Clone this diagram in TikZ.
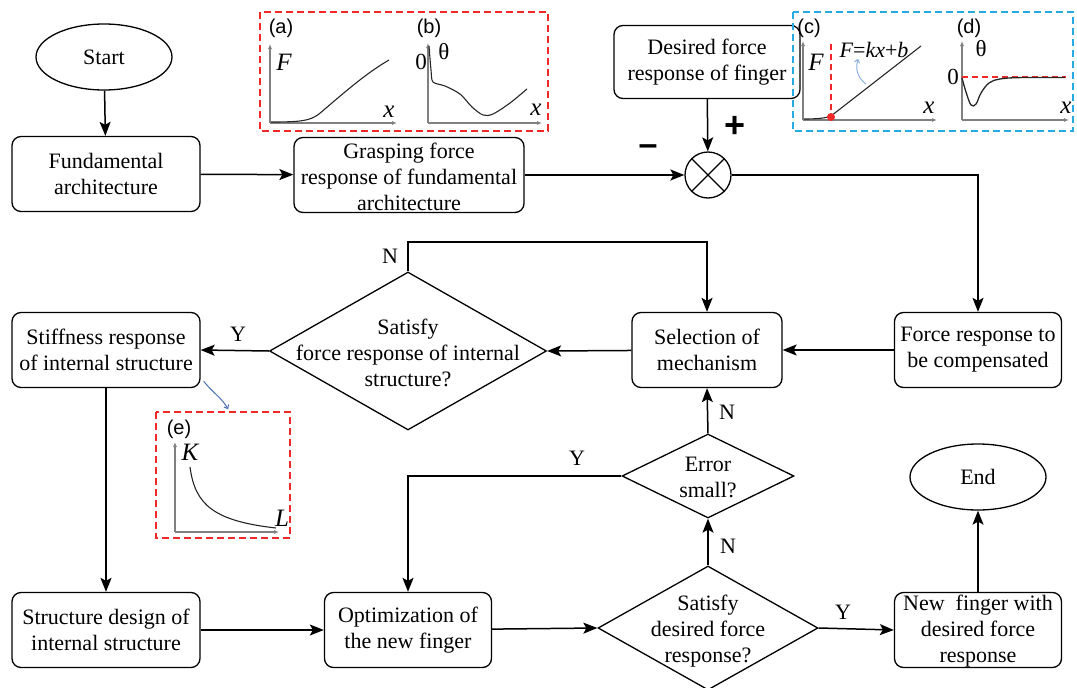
\documentclass[tikz,border=0pt]{standalone}
\usepackage{fontspec}
\setmainfont{Liberation Serif}
\newfontfamily\sanslab{Liberation Sans}
\usetikzlibrary{shapes.geometric,arrows.meta}
\definecolor{dashred}{RGB}{240,40,40}
\definecolor{dashblue}{RGB}{39,169,225}
\definecolor{arrblue}{RGB}{74,110,181}
\definecolor{lightarr}{RGB}{140,175,225}
\begin{document}
\begin{tikzpicture}[x=1pt,y=-1pt,
  txt/.style={font=\fontsize{22}{26}\selectfont, align=center, inner sep=0pt},
  box/.style={draw, rounded corners=9pt, line width=1.3pt, minimum height=75pt, inner sep=0pt, align=center, font=\fontsize{22}{26}\selectfont},
  oval/.style={draw, ellipse, line width=1.3pt, minimum width=136pt, minimum height=66pt, inner sep=0pt, font=\fontsize{22}{26}\selectfont},
  dia/.style={draw, diamond, line width=1.3pt, inner sep=0pt},
  flow/.style={line width=1.5pt, -{Stealth[length=14pt,width=11pt,inset=3pt]}},
  yn/.style={font=\fontsize{22}{26}\selectfont, inner sep=0pt},
  axis/.style={draw=gray, line width=1.2pt, -{Latex[length=5pt,width=4pt]}},
  curve/.style={line width=1.1pt, black!85},
  plab/.style={font=\sanslab\fontsize{20}{22}\selectfont, inner sep=0pt},
  vlab/.style={font=\itshape\fontsize{25}{26}\selectfont, inner sep=0pt},
  ulab/.style={font=\fontsize{23}{26}\selectfont, inner sep=0pt},
  rdash/.style={draw=dashred, line width=1.8pt, dash pattern=on 7pt off 4pt},
  bdash/.style={draw=dashblue, line width=1.8pt, dash pattern=on 7pt off 4pt},
]
\useasboundingbox (0,0) rectangle (1077,688);

% ---------- nodes ----------
\node[oval] (start) at (104,57) {Start};
\node[box, minimum width=188pt] (fund) at (106,174) {Fundamental\\architecture};
\node[box, minimum width=230pt] (grasp) at (409,175) {};
\node[txt] (grasptxt) at (409,177) {Grasping force\\response of fundamental\\architecture};
\node[box, minimum width=186pt, minimum height=73pt] (desired) at (707,62) {Desired force\\response of finger};
\node[draw, circle, line width=1.3pt, minimum size=46pt, inner sep=0pt] (sum) at (708,175) {};
\draw[line width=1.3pt] (sum.45) -- (sum.225) (sum.135) -- (sum.-45);
\node[font=\sanslab\fontsize{34}{34}\selectfont, inner sep=0pt] (minus) at (648,150) {\textbf{–}};
\node[font=\sanslab\fontsize{36}{36}\selectfont, inner sep=0pt] (plus) at (735,127) {\textbf{+}};

\node[box, minimum width=167pt] (comp) at (978,350) {Force response to\\be compensated};
\node[box, minimum width=150pt] (sel) at (707,350) {Selection of\\mechanism};
\node[dia, minimum width=277pt, minimum height=158pt] (d1) at (408,351) {};
\node[txt] (d1txt) at (408,353) {Satisfy\\force response of internal\\structure?};
\node[box, minimum width=188pt] (stiff) at (106,350) {Stiffness response\\of internal structure};

\node[dia, minimum width=172pt, minimum height=84pt] (err) at (708,476) {};
\node[txt] (errtxt) at (708,477) {Error\\small?};

\node[box, minimum width=188pt] (sdesign) at (106,630) {Structure design of\\internal structure};
\node[box, minimum width=167pt] (opt) at (408,630) {Optimization of\\the new finger};
\node[dia, minimum width=220pt, minimum height=124pt] (d3) at (708,628) {};
\node[txt] (d3txt) at (708,631) {Satisfy\\desired force\\response?};
\node[box, minimum width=167pt] (newf) at (978,630) {};
\node[txt] (newftxt) at (978,631) {New\ \ finger with\\desired force\\response};
\node[oval] (endn) at (978,477) {End};

% ---------- connectors ----------
\draw[flow] (start) -- (fund);
\draw[flow] (fund) -- (grasp);
\draw[flow] (grasp) -- (sum);
\draw[flow] (desired) -- (sum);
\draw[flow] (sum.east) -| (comp.north);
\draw[flow] (comp) -- (sel);
\draw[flow] (sel) -- (d1.east);
\draw[flow] (d1.west) -- (stiff.east) node[yn, pos=0.45, above=8pt] {Y};
\coordinate (nturn) at (408,242);
\draw[flow] (d1.north) -- (nturn) -| (sel.north);
\node[yn] (n1) at (390,256) {N};
\draw[flow] (stiff) -- (sdesign);
\draw[flow] (sdesign) -- (opt);
\draw[flow] (opt) -- (d3.west);
\draw[flow] (d3.north) -- (err.south);
\node[yn] (n3) at (728,546) {N};
\draw[flow] (err.north) -- (sel.south);
\node[yn] (n2) at (727,412) {N};
\draw[flow] (err.west) -| (opt.north);
\node[yn] (y2) at (577,458) {Y};
\draw[flow] (d3.east) -- (newf.west);
\node[yn] (y3) at (843,612) {Y};
\draw[flow] (newf) -- (endn);

% ---------- plots (a)(b) ----------
\draw[rdash] (260,12) rectangle (548,131);
\node[plab] (la) at (281,28) {(a)};
\draw[axis] (270,123) -- (270,44);
\draw[axis] (270,123) -- (397,123);
\node[vlab] (Fa) at (284,62) {F};
\node[vlab] (xa) at (389,112) {x};
\draw[curve] (271,122) .. controls (300,122) and (310,121) .. (319,114) .. controls (345,92) and (365,74) .. (389,60);

\node[plab] (lb) at (429,28) {(b)};
\draw[axis] (428,123) -- (428,43);
\draw[axis] (428,123) -- (542,123);
\node[ulab] (thb) at (444,52) {θ};
\node[ulab] (zb) at (421,62) {0};
\node[vlab] (xb) at (536,110) {x};
\draw[curve] plot[smooth, tension=0.5] coordinates {(429,46) (431,70) (433,82) (445,86) (460,94) (472,107) (483,115) (493,114) (510,103) (527,89)};

% ---------- plots (c)(d) ----------
\draw[bdash] (793,12) rectangle (1073,131);
\node[plab] (lc) at (809,28) {(c)};
\draw[axis] (803,120) -- (803,41);
\draw[axis] (803,120) -- (937,120);
\node[vlab] (Fc) at (816,62) {F};
\node[font=\fontsize{22}{24}\selectfont, inner sep=0pt] (eq) at (874,50) {\textit{F}=\textit{kx}+\textit{b}};
\node[vlab] (xc) at (929,108) {x};
\draw[dashred, line width=1.5pt, dash pattern=on 6pt off 4pt] (831,44) -- (831,116);
\draw[curve] (804,119) .. controls (818,119) and (826,118) .. (831,116) -- (921,46);
\fill[dashred] (831,117) circle (4pt);
\draw[lightarr, line width=1pt, -{To[length=4pt,width=6pt]}] (866,84) .. controls (858,78) and (855,70) .. (858,59);

\node[plab] (ld) at (969,28) {(d)};
\draw[axis] (962,120) -- (962,41);
\draw[axis] (962,120) -- (1069,120);
\node[ulab] (thd) at (981,49) {θ};
\node[ulab] (zd) at (953,77) {0};
\node[vlab] (xd) at (1066,108) {x};
\draw[dashred, line width=1.5pt, dash pattern=on 6pt off 4pt] (962,77) -- (1066,77);
\draw[curve, line width=1.3pt] plot[smooth, tension=0.6] coordinates {(962,78) (966,92) (971,105) (976,104) (981,93) (989,83) (1000,79) (1020,77.6) (1065,77.5)};

% ---------- plot (e) ----------
\draw[rdash] (156,412) rectangle (290,538);
\node[plab] (le) at (179,429) {(e)};
\draw[axis] (175,532) -- (175,442);
\draw[axis] (175,532) -- (279,532);
\node[vlab] (K) at (190,452) {K};
\node[vlab] (L) at (282,518) {L};
\draw[curve] (190,467) .. controls (195,505) and (214,521) .. (276,528);
\draw[arrblue, line width=1pt, -{To[length=4pt,width=6pt]}] (stiff.south east) ++(3,-7) .. controls (212,392) and (222,398) .. (228,409);
\end{tikzpicture}
\end{document}
